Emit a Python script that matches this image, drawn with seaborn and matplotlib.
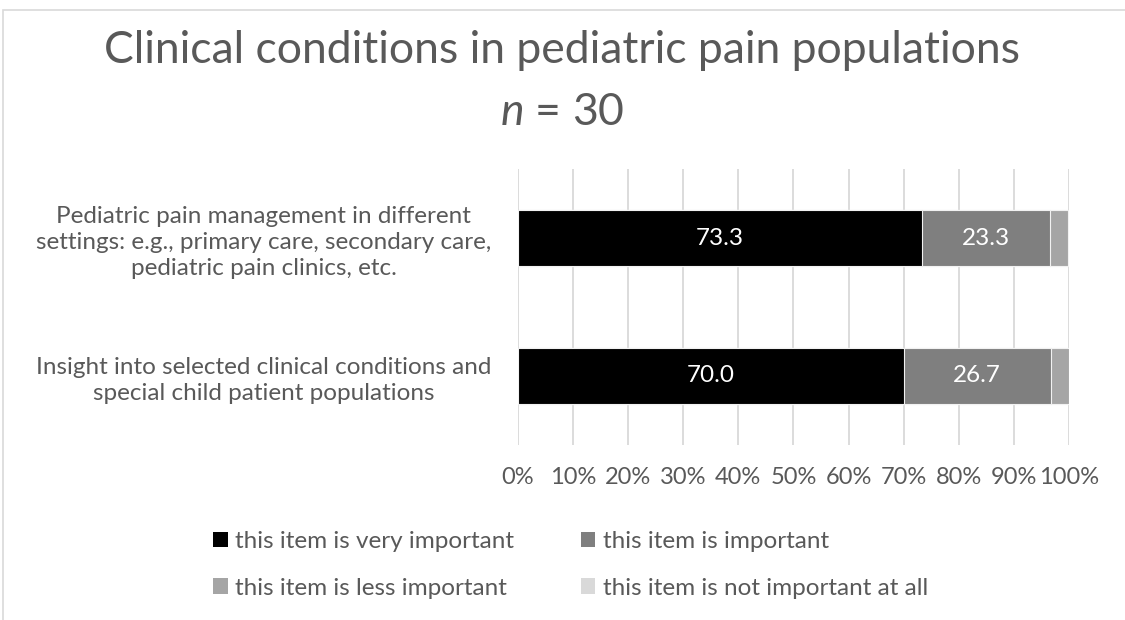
import pandas as pd
import seaborn as sns
import matplotlib.pyplot as plt
from matplotlib.patches import Rectangle, Patch

# datos
items = ['Pediatric pain management in different\nsettings: e.g., primary care, secondary care,\npediatric pain clinics, etc.',
         'Insight into selected clinical conditions and\nspecial child patient populations']
very_important = [73.3, 70.0]
important = [23.3, 26.7]
less_important = [3.3, 3.3]
not_important = [0.0, 0.0]

niveles = ['this item is very important', 'this item is important',
           'this item is less important', 'this item is not important at all']
colores = ['#000000', '#7f7f7f', '#a5a5a5', '#d9d9d9']
gris = '#595959'

df = pd.DataFrame({'item': items,
                   niveles[0]: very_important,
                   niveles[1]: important,
                   niveles[2]: less_important,
                   niveles[3]: not_important})

sns.set_style('white')
plt.rcParams['font.family'] = ['Lato', 'DejaVu Sans']
plt.rcParams['mathtext.fontset'] = 'custom'
plt.rcParams['mathtext.it'] = 'Lato:italic'
plt.rcParams['mathtext.rm'] = 'Lato'

fig = plt.figure(figsize=(11.25, 6.2), dpi=100)
ax = fig.add_axes([0.4604, 0.2823, 0.4898, 0.4451])

# barras apiladas: se dibuja primero el acumulado mayor
acumulado = df[niveles].cumsum(axis=1)
for nivel, color in reversed(list(zip(niveles, colores))):
    sns.barplot(x=acumulado[nivel], y=df['item'], orient='h', color=color,
                width=0.4, edgecolor='#f2f2f2', linewidth=0.8, ax=ax)

# etiquetas dentro de las barras
for i in range(len(items)):
    ax.text(very_important[i] / 2, i, f'{very_important[i]:.1f}', color='white',
            ha='center', va='center', fontsize=17.5)
    ax.text(very_important[i] + important[i] / 2, i, f'{important[i]:.1f}', color='white',
            ha='center', va='center', fontsize=17.5)

ax.set_xlim(0, 100)
ax.set_ylim(1.5, -0.5)
ax.set_xticks(range(0, 101, 10))
ax.set_xticklabels([f'{t}%' for t in range(0, 101, 10)])
ax.grid(axis='x', color='#d9d9d9', linewidth=1.3)
ax.set_axisbelow(True)
for s in ax.spines.values():
    s.set_visible(False)
ax.set_xlabel('')
ax.set_ylabel('')
ax.tick_params(axis='x', colors=gris, labelsize=17, length=0, pad=16)
ax.tick_params(axis='y', colors=gris, labelsize=17.5, length=0, pad=19)
for lab in ax.get_yticklabels():
    lab.set_multialignment('center')
    lab.set_linespacing(1.3)

fig.text(0.5, 0.919, 'Clinical conditions in pediatric pain populations',
         ha='center', va='center', fontsize=32, color=gris)
fig.text(0.5, 0.819, r'$\mathit{n}$ = 30', ha='center', va='center', fontsize=32,
         color=gris)

# leyenda en orden por filas
orden = [0, 2, 1, 3]
handles = [Patch(facecolor=colores[k], edgecolor='none') for k in orden]
fig.legend(handles, [niveles[k] for k in orden], loc='center left',
           bbox_to_anchor=(0.170, 0.089), ncol=2,
           frameon=False, fontsize=17.5, labelcolor=gris, handlelength=0.6,
           handleheight=0.6, handletextpad=0.3, columnspacing=2.75, labelspacing=1.05)

# borde del area del grafico
fig.patches.append(Rectangle((3 / 1125, -0.1), 1.2, 1 - 10 / 620 + 0.1,
                             transform=fig.transFigure, fill=False,
                             edgecolor='#d9d9d9', linewidth=1.2))

plt.savefig('out.png')
plt.close()
